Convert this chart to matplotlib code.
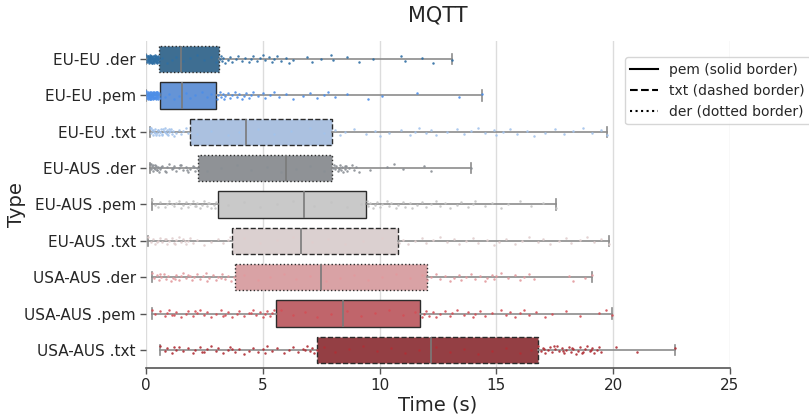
import numpy as np
import matplotlib
matplotlib.use("Agg")
import matplotlib.pyplot as plt
from matplotlib.lines import Line2D

# categorias (de arriba a abajo)
types = ["EU-EU .der", "EU-EU .pem", "EU-EU .txt",
         "EU-AUS .der", "EU-AUS .pem", "EU-AUS .txt",
         "USA-AUS .der", "USA-AUS .pem", "USA-AUS .txt"]

# estadisticos de cada caja
whis_lo = [0.02, 0.02, 0.16, 0.15, 0.24, 0.10, 0.24, 0.24, 0.60]
q1 = [0.56, 0.60, 1.88, 2.21, 3.07, 3.67, 3.81, 5.55, 7.33]
median = [1.50, 1.53, 4.30, 6.01, 6.78, 6.64, 7.48, 8.42, 12.20]
q3 = [3.12, 2.98, 7.98, 7.98, 9.40, 10.80, 12.01, 11.73, 16.79]
whis_hi = [13.10, 14.40, 19.72, 13.91, 17.54, 19.83, 19.09, 19.93, 22.64]

# muestras (aproximadas a partir de los puntos visibles)
eu_eu_der = [0.02, 0.03, 0.05, 0.06, 0.08, 0.09, 0.1, 0.11, 0.12, 0.13, 0.14, 0.15, 0.16,
             0.17, 0.18, 0.19, 0.2, 0.21, 0.22, 0.23, 0.24, 0.25, 0.26, 0.27, 0.28, 0.29,
             0.3, 0.31, 0.32, 0.33, 0.34, 0.35, 0.36, 0.37, 0.38, 0.39, 0.4, 0.41, 0.42,
             0.43, 0.44, 0.45, 0.46, 0.47, 0.48, 0.49, 0.5, 0.51, 0.52, 0.53, 0.54, 0.55,
             0.07, 0.13, 0.19, 0.27, 0.33, 0.41, 0.47, 0.11, 0.23, 0.37,
             0.7, 0.9, 1.1, 1.3, 1.6, 1.9, 2.2, 2.5, 2.8, 3.0,
             3.15, 3.2, 3.25, 3.3, 3.4, 3.5, 3.6, 3.7, 3.85, 3.95, 4.1, 4.25, 4.4, 4.5,
             4.6, 4.75, 4.9, 5.0, 5.1, 5.25, 5.4, 5.5, 5.6, 5.8, 6.0, 6.1, 6.3, 6.9, 7.1,
             7.5, 7.9, 8.0, 8.6, 9.1, 9.7, 10.9, 11.1, 11.8, 12.3, 13.1]
eu_eu_pem = [0.02, 0.03, 0.04, 0.05, 0.06, 0.07, 0.08, 0.09, 0.1, 0.11, 0.12, 0.13, 0.14,
             0.15, 0.16, 0.17, 0.18, 0.19, 0.2, 0.21, 0.22, 0.23, 0.24, 0.25, 0.26, 0.27,
             0.28, 0.29, 0.3, 0.31, 0.32, 0.33, 0.34, 0.35, 0.36, 0.37, 0.38, 0.39, 0.4,
             0.41, 0.42, 0.43, 0.44, 0.45, 0.46, 0.47, 0.48, 0.49, 0.5, 0.51, 0.52, 0.54,
             0.55, 0.58, 0.09, 0.15, 0.21, 0.29, 0.35, 0.43, 0.49,
             0.8, 1.0, 1.2, 1.4, 1.7, 1.9, 2.1, 2.4, 2.6, 2.8,
             3.05, 3.1, 3.15, 3.2, 3.3, 3.35, 3.4, 3.5, 3.6, 3.7, 3.8, 3.9, 4.0, 4.1,
             4.2, 4.3, 4.4, 4.5, 4.6, 4.8, 5.0, 5.1, 5.3, 5.5, 5.7, 6.0, 6.3, 6.7, 7.0,
             7.3, 7.6, 7.8, 8.1, 8.6, 9.5, 10.1, 11.6, 13.4, 14.4]
eu_eu_txt = [0.16, 0.2, 0.25, 0.3, 0.35, 0.4, 0.45, 0.5, 0.55, 0.6, 0.65, 0.7, 0.75, 0.8,
             0.85, 0.9, 0.95, 1.0, 1.05, 1.1, 1.15, 1.2, 1.3, 1.4, 1.5, 1.6, 1.7, 1.8,
             0.28, 0.42, 0.58, 0.72, 0.88, 1.02, 0.22, 0.38, 0.52, 0.68, 0.82, 0.98,
             2.2, 2.8, 3.5, 4.0, 4.8, 5.5, 6.2, 7.0, 7.6,
             8.1, 8.3, 8.5, 8.9, 9.4, 9.8, 10.0, 10.4, 10.9, 11.3, 11.5, 11.7, 12.0,
             12.2, 12.4, 12.9, 13.3, 13.6, 13.9, 14.2, 14.5, 14.9, 15.0, 15.3, 15.6,
             15.9, 16.3, 16.6, 17.1, 17.5, 17.9, 18.3, 18.7, 19.1, 19.5, 19.72]
eu_aus_der = [0.15, 0.2, 0.25, 0.3, 0.35, 0.4, 0.45, 0.5, 0.55, 0.6, 0.7, 0.8, 0.9, 1.0,
              1.1, 1.2, 1.3, 1.4, 1.5, 1.6, 1.7, 1.8, 1.9, 2.0, 2.1, 2.2, 0.32, 0.48,
              0.62, 0.85, 1.15, 1.45, 1.75, 2.05, 0.22, 0.38, 0.42,
              2.6, 3.2, 3.9, 4.5, 5.2, 5.8, 6.4, 7.0, 7.6,
              8.0, 8.05, 8.1, 8.15, 8.2, 8.25, 8.3, 8.35, 8.4, 8.45, 8.5, 8.55, 8.6,
              8.7, 8.8, 8.9, 9.0, 9.1, 8.28, 8.52, 9.6, 10.3, 10.6, 11.0, 11.9, 12.2,
              13.91]
eu_aus_pem = [0.24, 0.4, 0.6, 0.8, 0.9, 1.0, 1.2, 1.3, 1.5, 1.6, 1.7, 1.8, 1.9, 2.0,
              2.1, 2.2, 2.3, 2.4, 2.5, 2.6, 2.7, 2.8, 2.9, 3.0, 0.5, 1.1, 1.4, 2.15,
              2.65, 2.95,
              3.5, 4.2, 4.9, 5.6, 6.3, 7.2, 7.9, 8.6, 9.2,
              9.45, 9.5, 9.6, 9.7, 9.8, 9.9, 10.0, 10.1, 10.3, 10.4, 10.5, 10.7, 10.8,
              11.0, 11.1, 11.3, 11.4, 11.6, 11.8, 12.0, 12.2, 12.4, 12.6, 12.8, 13.0,
              13.3, 13.5, 13.8, 14.0, 14.1, 14.5, 14.8, 15.2, 15.5, 16.0, 16.5, 17.0,
              17.54]
eu_aus_txt = [0.1, 0.2, 0.3, 0.4, 0.5, 0.6, 0.7, 0.8, 0.9, 1.0, 1.1, 1.2, 1.3, 1.4,
              1.5, 1.6, 1.7, 1.8, 1.9, 2.0, 2.2, 2.5, 2.8, 3.1, 3.3, 3.5, 3.6, 0.45,
              0.85, 1.25, 1.65,
              4.2, 4.9, 5.6, 6.3, 7.1, 7.8, 8.5, 9.3, 10.1,
              10.85, 11.0, 11.2, 11.5, 11.8, 12.0, 12.3, 12.6, 12.9, 13.2, 13.4, 13.7,
              14.0, 14.2, 14.6, 14.9, 15.1, 15.4, 15.8, 16.1, 16.4, 16.8, 17.0, 17.3,
              17.7, 18.0, 18.2, 18.6, 18.9, 19.2, 19.5, 19.83]
usa_aus_der = [0.24, 0.35, 0.45, 0.55, 0.65, 0.75, 0.85, 0.95, 1.05, 1.15, 1.3, 1.4,
               1.5, 1.6, 1.7, 1.8, 1.95, 2.05, 2.2, 2.3, 2.45, 2.6, 2.7, 2.85, 3.0,
               3.1, 3.25, 3.4, 3.5, 3.65, 3.75, 0.6, 1.25, 1.9, 2.55, 3.2,
               4.2, 4.8, 5.3, 5.9, 6.4, 7.0, 7.7, 8.3, 8.9, 9.5, 10.1, 10.7, 11.3, 11.8,
               12.05, 12.2, 12.4, 12.6, 12.8, 13.0, 13.2, 13.4, 13.5, 13.7, 13.9,
               14.1, 14.3, 14.5, 14.6, 14.8, 14.9, 15.0, 15.2, 15.5, 15.8, 16.0, 16.2,
               16.4, 16.6, 18.1, 18.3, 18.8, 19.09]
usa_aus_pem = [0.24, 0.4, 0.6, 0.8, 0.9, 1.0, 1.2, 1.3, 1.5, 1.7, 1.8, 2.0, 2.2, 2.3,
               2.5, 2.6, 2.8, 3.0, 3.2, 3.4, 3.5, 3.7, 3.9, 4.0, 4.2, 4.4, 4.6, 4.7,
               4.9, 5.0, 5.1, 5.2, 5.3, 5.4, 5.5, 1.1, 2.1, 3.3, 4.5,
               5.8, 6.3, 6.8, 7.3, 7.9, 8.6, 9.2, 9.8, 10.4, 11.0, 11.5,
               11.8, 11.9, 12.0, 12.1, 12.3, 12.4, 12.6, 12.8, 13.0, 13.1, 13.3, 13.6,
               13.8, 14.0, 14.1, 14.3, 14.5, 14.8, 15.2, 15.4, 15.6, 15.8, 16.0, 16.2,
               16.4, 16.7, 17.1, 17.4, 18.0, 18.6, 19.4, 19.7, 19.93]
usa_aus_txt = [0.6, 0.8, 0.9, 1.1, 1.3, 1.4, 1.6, 1.8, 2.0, 2.1, 2.3, 2.5, 2.6, 2.8,
               3.0, 3.1, 3.3, 3.5, 3.6, 3.8, 4.0, 4.2, 4.4, 4.6, 4.8, 5.0, 5.2, 5.4,
               5.6, 5.9, 6.1, 6.3, 6.5, 6.7, 6.9, 7.0, 7.1, 7.2, 7.3, 1.2, 2.4, 3.7,
               5.1, 6.8,
               7.6, 8.1, 8.7, 9.3, 9.9, 10.5, 11.1, 11.7, 12.4, 13.0, 13.6, 14.2, 14.8,
               15.4, 16.0, 16.5,
               16.8, 16.9, 17.0, 17.1, 17.2, 17.3, 17.4, 17.5, 17.6, 17.7, 17.8, 17.9,
               18.0, 18.1, 18.2, 18.3, 18.4, 18.5, 18.6, 18.7, 18.8, 18.9, 19.0, 19.1,
               19.2, 19.3, 19.4, 19.5, 17.05, 17.45, 17.85, 18.25, 18.65, 19.05,
               20.1, 21.0, 22.64]

samples = [eu_eu_der, eu_eu_pem, eu_eu_txt, eu_aus_der, eu_aus_pem, eu_aus_txt,
           usa_aus_der, usa_aus_pem, usa_aus_txt]

box_colors = ["#3e6e92", "#6594d6", "#abc1e0", "#8f9296", "#c9c9c9", "#dbd0d0",
              "#d9a2a5", "#c0656b", "#943f44"]
point_colors = ["#2f6ea3", "#4d8ee8", "#a3c3ec", "#8a8f95", "#c4c4c4", "#e0cdcd",
                "#e39a9e", "#d44f56", "#b02e35"]
border_style = {"pem": "-", "txt": "--", "der": ":"}

text_col = "#262626"
plt.rcParams["font.family"] = "DejaVu Sans"

fig = plt.figure(figsize=(8.09, 4.17), dpi=100)
ax = fig.add_axes([0.1805, 0.1175, 0.7218, 0.7842])

ax.grid(axis="x", color="#dcdcdc", linewidth=1, zorder=0)
ax.set_axisbelow(True)

stats = []
for i, t in enumerate(types):
    stats.append({"label": t, "whislo": whis_lo[i], "q1": q1[i], "med": median[i],
                  "q3": q3[i], "whishi": whis_hi[i]})

pos = np.arange(len(types))
bp = ax.bxp(stats, positions=pos, orientation="horizontal", widths=0.72,
            patch_artist=True, showfliers=False, capwidths=0.28,
            whiskerprops=dict(color="#8c8c8c", linewidth=1.2),
            capprops=dict(color="#8c8c8c", linewidth=1.2),
            medianprops=dict(color="#7a7a7a", linewidth=1.2))

for i, patch in enumerate(bp["boxes"]):
    ext = types[i].split(".")[-1]
    patch.set_facecolor(box_colors[i])
    patch.set_edgecolor("#2b2b2b")
    patch.set_linewidth(1.0)
    patch.set_linestyle(border_style[ext])
    patch.set_zorder(2)

# puntos con jitter fijo
for i, vals in enumerate(samples):
    vals = np.asarray(vals)
    k = np.arange(len(vals))
    jit = ((k * 0.618034) % 1.0 - 0.5) * 0.22
    ax.scatter(vals, pos[i] + jit, s=3.2, color=point_colors[i], linewidths=0,
               alpha=0.9, zorder=3)

ax.set_xlim(0, 25)
ax.set_ylim(len(types) - 0.5, -0.5)
ax.set_xticks([0, 5, 10, 15, 20, 25])
ax.set_yticks(pos)
ax.set_yticklabels(types)

for s in ["top", "right", "left"]:
    ax.spines[s].set_visible(False)
ax.spines["bottom"].set_color("#555555")
ax.spines["bottom"].set_linewidth(1.2)
ax.tick_params(axis="both", labelsize=11, colors="#555555", labelcolor=text_col,
               length=4.3, width=1, pad=3)

ax.set_xlabel("Time (s)", fontsize=14, color=text_col, labelpad=2)
ax.set_ylabel("Type", fontsize=14, color=text_col)
ax.yaxis.set_label_coords(-0.205, 0.5)
ax.set_title("MQTT", fontsize=15, color=text_col, pad=14)

handles = [Line2D([0], [0], color="black", linestyle="-", linewidth=1.5),
           Line2D([0], [0], color="black", linestyle="--", linewidth=1.5),
           Line2D([0], [0], color="black", linestyle=":", linewidth=1.5)]
leg = ax.legend(handles, ["pem (solid border)", "txt (dashed border)", "der (dotted border)"],
                loc="upper left", bbox_to_anchor=(0.82, 0.95), borderaxespad=0,
                fontsize=10, frameon=True, handlelength=2.0)
leg.get_frame().set_edgecolor("#cccccc")
for txt in leg.get_texts():
    txt.set_color(text_col)

fig.savefig("out.png", dpi=100)
